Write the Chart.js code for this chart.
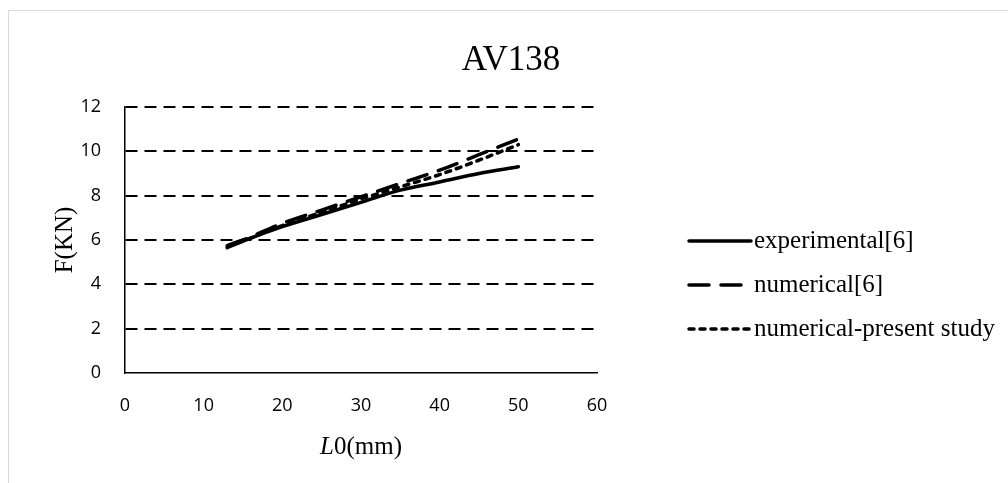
<!DOCTYPE html>
<html>
<head>
<meta charset="utf-8">
<script src="https://cdn.jsdelivr.net/npm/chart.js@4.4.1/dist/chart.umd.min.js"></script>
<style>
  html, body { margin: 0; padding: 0; background: #fff; }
  #wrap { position: relative; width: 1008px; height: 483px; overflow: hidden; }
  #frame { position: absolute; left: 8px; top: 10px; width: 1100px; height: 600px; border: 1px solid #d9d9d9; box-sizing: border-box; }
  canvas { position: absolute; left: 0; top: 0; }
</style>
</head>
<body>
<div id="wrap">
  <div id="frame"></div>
  <canvas id="c" width="1008" height="483"></canvas>
</div>
<script>
const chartTitle = "AV138";
const xTitleItalic = "L";
const xTitleRest = "0(mm)";
const yTitle = "F(KN)";

const xValues = [13, 15, 20, 25, 30, 35, 40, 45, 50];
const experimental = [5.65, 5.95, 6.6, 7.15, 7.7, 8.25, 8.62, 9.0, 9.3];
const numerical6 = [5.75, 6.0, 6.75, 7.35, 7.95, 8.55, 9.15, 9.85, 10.55];
const presentStudy = [5.7, 5.95, 6.65, 7.25, 7.85, 8.4, 8.95, 9.6, 10.3];

const seriesLabels = ["experimental[6]", "numerical[6]", "numerical-present study"];
const xTicks = [0, 10, 20, 30, 40, 50, 60];
const yTicks = [0, 2, 4, 6, 8, 10, 12];

function pts(ys) { return xValues.map((x, i) => ({ x: x, y: ys[i] })); }

const dashes = [[], [20, 12], [5, 6]];

const overlay = {
  id: 'overlay',
  afterDraw(chart) {
    const ctx = chart.ctx;
    ctx.save();
    ctx.fillStyle = '#000';
    // Title
    ctx.font = '35px "Liberation Serif", "Times New Roman", serif';
    ctx.textAlign = 'center';
    ctx.textBaseline = 'alphabetic';
    ctx.fillText(chartTitle, 511, 70);
    // Y title
    ctx.font = '25px "Liberation Serif", serif';
    ctx.save();
    ctx.translate(65, 240);
    ctx.rotate(-Math.PI / 2);
    ctx.textAlign = 'center';
    ctx.textBaseline = 'middle';
    ctx.fillText(yTitle, 0, 0);
    ctx.restore();
    // X title
    const xs = chart.scales.x;
    const cx = (xs.left + xs.right) / 2;
    ctx.textAlign = 'left';
    ctx.textBaseline = 'alphabetic';
    ctx.font = 'italic 25px "Liberation Serif", serif';
    const w1 = ctx.measureText(xTitleItalic).width;
    ctx.font = '25px "Liberation Serif", serif';
    const w2 = ctx.measureText(xTitleRest).width;
    let sx = cx - (w1 + w2) / 2;
    ctx.font = 'italic 25px "Liberation Serif", serif';
    ctx.fillText(xTitleItalic, sx, 454);
    ctx.font = '25px "Liberation Serif", serif';
    ctx.fillText(xTitleRest, sx + w1, 454);
    // Legend
    const rows = [241, 285, 329];
    chart.data.datasets.forEach((ds, i) => {
      const y = rows[i];
      ctx.save();
      ctx.strokeStyle = '#000';
      ctx.lineWidth = 3.5;
      ctx.lineCap = 'round';
      ctx.setLineDash(ds.borderDash || []);
      ctx.beginPath();
      ctx.moveTo(689, y);
      ctx.lineTo(751, y);
      ctx.stroke();
      ctx.restore();
      ctx.font = '25px "Liberation Serif", serif';
      ctx.textBaseline = 'middle';
      ctx.fillText(ds.label, 754, y);
    });
    ctx.restore();
  }
};

const datasets = [experimental, numerical6, presentStudy].map((ys, i) => ({
  label: seriesLabels[i],
  data: pts(ys),
  borderColor: '#000',
  backgroundColor: '#000',
  borderWidth: 3.5,
  borderDash: dashes[i],
  borderCapStyle: 'round',
  pointRadius: 0,
  fill: false,
  cubicInterpolationMode: 'monotone'
}));

new Chart(document.getElementById('c'), {
  type: 'line',
  data: { datasets: datasets },
  options: {
    responsive: false,
    animation: false,
    events: [],
    layout: { padding: { left: 65, right: 411, top: 107, bottom: 60 } },
    plugins: { legend: { display: false }, title: { display: false }, tooltip: { enabled: false } },
    scales: {
      x: {
        type: 'linear',
        min: 0, max: 60,
        afterFit(s) { s.height = 50; },
        afterBuildTicks(s) { s.ticks = xTicks.map(v => ({ value: v })); },
        grid: { display: false, drawTicks: false },
        border: { display: true, color: '#000', width: 1.5 },
        ticks: { color: '#000', padding: 22, font: { family: '"Open Sans", sans-serif', size: 18 } }
      },
      y: {
        type: 'linear',
        min: 0, max: 12,
        afterFit(s) { s.width = 60; },
        afterBuildTicks(s) { s.ticks = yTicks.map(v => ({ value: v })); },
        grid: {
          drawTicks: false,
          lineWidth: 2,
          color: (c) => (c.tick && c.tick.value === 0) ? 'rgba(0,0,0,0)' : '#000'
        },
        border: { display: true, color: '#000', width: 1.5, dash: [12, 7] },
        ticks: { color: '#000', padding: 24, font: { family: '"Open Sans", sans-serif', size: 18 } }
      }
    }
  },
  plugins: [overlay]
});
</script>
</body>
</html>
